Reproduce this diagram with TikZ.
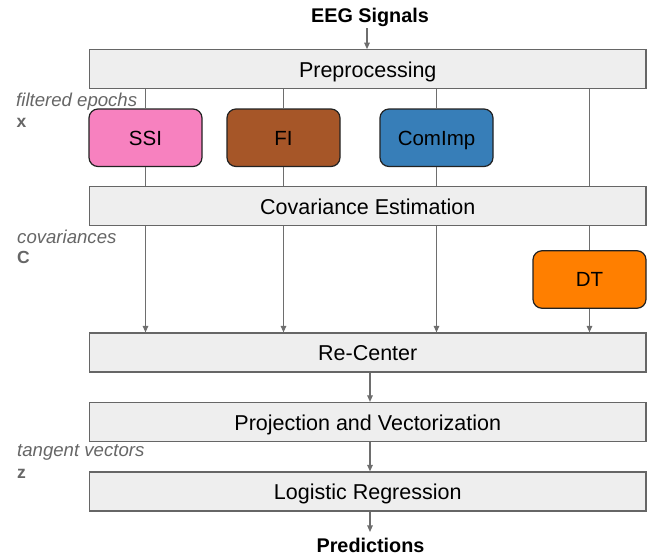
\documentclass[tikz,border=0pt]{standalone}
\usepackage{fontspec}
\setmainfont{Liberation Sans}
\usetikzlibrary{arrows.meta}
\definecolor{ssicol}{HTML}{F781BF}
\definecolor{ficol}{HTML}{A65628}
\definecolor{cicol}{HTML}{377EB8}
\definecolor{dtcol}{HTML}{FF7F00}
\definecolor{boxfill}{HTML}{EEEEEE}
\definecolor{boxline}{HTML}{666666}
\definecolor{linecol}{HTML}{6E6E6E}
\definecolor{labcol}{HTML}{666666}
\definecolor{colline}{HTML}{222222}
\tikzset{
  graybox/.style={draw=boxline, fill=boxfill, line width=1.2pt, inner sep=0pt,
    minimum width=556.5pt, minimum height=39pt, text height=16.8pt, text depth=0pt,
    font=\fontsize{21.5}{24}\selectfont},
  colbox/.style={draw=colline, line width=1.2pt, rounded corners=9pt, inner sep=0pt,
    minimum width=113pt, minimum height=57.5pt, text height=14.8pt, text depth=0pt,
    font=\fontsize{20.5}{24}\selectfont},
  conn/.style={draw=linecol, line width=1.1pt},
  arr/.style={conn, -{Triangle[length=6.5pt,width=5.5pt]}},
  endtxt/.style={inner sep=0pt, anchor=base, font=\fontsize{19.8}{22}\selectfont\bfseries},
  sidetxt/.style={inner sep=0pt, anchor=base west, text=labcol, font=\fontsize{18.6}{21}\selectfont\itshape},
  sidesym/.style={inner sep=0pt, anchor=base west, text=labcol, font=\fontsize{17.5}{19}\selectfont\bfseries}
}
\begin{document}
\begin{tikzpicture}[x=1pt,y=-1pt]
\useasboundingbox (0,0) rectangle (651,558);
% end texts
\node[endtxt] (eeg) at (370,22) {EEG Signals};
\node[endtxt] (pred) at (370.5,552) {Predictions};
% gray boxes
\node[graybox] (pre) at (367.75,69.25) {Preprocessing};
\node[graybox] (cov) at (367.75,206.25) {Covariance Estimation};
\node[graybox] (rc) at (367.75,352.5) {Re-Center};
\node[graybox] (proj) at (367.75,422) {Projection and Vectorization};
\node[graybox] (lr) at (367.75,491.5) {Logistic Regression};
% coloured boxes
\node[colbox, fill=ssicol] (ssi) at (145.5,137.75) {SSI};
\node[colbox, fill=ficol] (fi) at (283.5,137.75) {FI};
\node[colbox, fill=cicol] (ci) at (436.5,137.75) {ComImp};
\node[colbox, fill=dtcol] (dt) at (589.5,279.5) {DT};
% side labels
\node[sidetxt] (lab1) at (16,106) {filtered epochs};
\node[sidesym] (sym1) at (16.5,127) {x};
\node[sidetxt] (lab2) at (17,243) {covariances};
\node[sidesym] (sym2) at (17,263) {C};
\node[sidetxt] (lab3) at (17,456.5) {tangent vectors};
\node[sidesym] (sym3) at (17,478) {z};
% helper coordinates
\coordinate (ain) at (367,28);
\coordinate (ax) at (370,0);
% connectors
\draw[arr] (ain) -- (ain |- pre.north);
\foreach \b in {ssi,fi,ci}{
  \draw[conn] (pre.south -| \b) -- (\b.north);
  \draw[conn] (\b.south) -- (cov.north -| \b);
  \draw[arr] (cov.south -| \b) -- (rc.north -| \b);
}
\draw[conn] (pre.south -| dt) -- (cov.north -| dt);
\draw[conn] (cov.south -| dt) -- (dt.north);
\draw[arr] (dt.south) -- (rc.north -| dt);
\draw[arr] (rc.south -| ax) -- (proj.north -| ax);
\draw[arr] (proj.south -| ax) -- (lr.north -| ax);
\draw[arr] (lr.south -| ax) -- ([yshift=5.5pt]ax |- pred.north);
\end{tikzpicture}
\end{document}
